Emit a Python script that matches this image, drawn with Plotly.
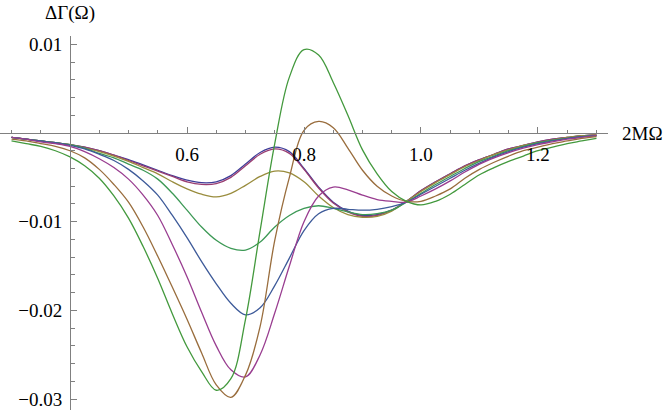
import plotly.graph_objects as go

# Sample points along 2MΩ (step 0.025)
x_vals = [0.30, 0.325, 0.35, 0.375, 0.40, 0.425, 0.45, 0.475, 0.50, 0.525,
          0.55, 0.575, 0.60, 0.625, 0.65, 0.675, 0.70, 0.725, 0.75, 0.775,
          0.80, 0.825, 0.85, 0.875, 0.90, 0.925, 0.95, 0.975, 1.0, 1.025,
          1.05, 1.075, 1.1, 1.125, 1.15, 1.175, 1.2, 1.225, 1.25, 1.275, 1.3]

# ΔΓ(Ω) for each curve
curve_1 = [-0.0005, -0.0007, -0.0009, -0.0011, -0.0013, -0.0016, -0.0020, -0.0025, -0.0030, -0.0036,
           -0.0042, -0.0048, -0.0053, -0.0056, -0.0055, -0.0048, -0.0035, -0.0022, -0.0016, -0.0021,
           -0.0040, -0.0061, -0.0078, -0.0088, -0.0093, -0.0092, -0.0087, -0.0077, -0.0065, -0.0055,
           -0.0046, -0.0037, -0.0030, -0.0024, -0.0018, -0.0014, -0.0010, -0.0007, -0.0005, -0.0003, -0.0002]
curve_2 = [-0.0005, -0.0007, -0.0009, -0.0011, -0.0013, -0.0016, -0.0020, -0.0025, -0.0031, -0.0037,
           -0.0043, -0.0049, -0.0055, -0.0058, -0.0057, -0.0050, -0.0037, -0.0024, -0.0018, -0.0023,
           -0.0041, -0.0062, -0.0079, -0.0089, -0.0094, -0.0093, -0.0087, -0.0077, -0.0065, -0.0055,
           -0.0046, -0.0037, -0.0030, -0.0024, -0.0018, -0.0014, -0.0010, -0.0007, -0.0005, -0.0003, -0.0002]
curve_3 = [-0.0005, -0.0007, -0.0009, -0.0011, -0.0013, -0.0017, -0.0021, -0.0026, -0.0032, -0.0039,
           -0.0046, -0.0055, -0.0063, -0.0069, -0.0072, -0.0068, -0.0059, -0.0049, -0.0043, -0.0045,
           -0.0055, -0.0071, -0.0084, -0.0092, -0.0095, -0.0094, -0.0088, -0.0077, -0.0066, -0.0056,
           -0.0047, -0.0038, -0.0031, -0.0024, -0.0019, -0.0014, -0.0011, -0.0008, -0.0005, -0.0003, -0.0002]
curve_4 = [-0.0005, -0.0007, -0.0009, -0.0011, -0.0013, -0.0017, -0.0023, -0.0028, -0.0035, -0.0042,
           -0.0052, -0.0068, -0.0087, -0.0106, -0.0121, -0.0130, -0.0132, -0.0123, -0.0106, -0.0093,
           -0.0085, -0.0082, -0.0085, -0.0089, -0.0092, -0.0091, -0.0087, -0.0078, -0.0068, -0.0058,
           -0.0049, -0.0040, -0.0032, -0.0026, -0.0020, -0.0015, -0.0011, -0.0008, -0.0006, -0.0004, -0.0003]
curve_5 = [-0.0005, -0.0007, -0.0009, -0.0011, -0.0014, -0.0018, -0.0024, -0.0031, -0.0041, -0.0054,
           -0.0070, -0.0093, -0.0118, -0.0145, -0.0170, -0.0192, -0.0205, -0.0197, -0.0172, -0.0141,
           -0.0110, -0.0091, -0.0085, -0.0086, -0.0087, -0.0086, -0.0083, -0.0078, -0.0069, -0.0060,
           -0.0051, -0.0042, -0.0034, -0.0027, -0.0021, -0.0016, -0.0012, -0.0009, -0.0006, -0.0004, -0.0003]
curve_6 = [-0.0005, -0.0007, -0.0010, -0.0012, -0.0015, -0.0021, -0.0029, -0.0039, -0.0052, -0.0070,
           -0.0093, -0.0126, -0.0162, -0.0202, -0.0240, -0.0267, -0.0275, -0.0250, -0.0203, -0.0150,
           -0.0100, -0.0071, -0.0061, -0.0064, -0.0070, -0.0075, -0.0077, -0.0078, -0.0071, -0.0063,
           -0.0054, -0.0044, -0.0035, -0.0028, -0.0022, -0.0017, -0.0013, -0.0010, -0.0007, -0.0005, -0.0003]
curve_7 = [-0.0007, -0.0009, -0.0012, -0.0015, -0.0020, -0.0028, -0.0041, -0.0058, -0.0078, -0.0106,
           -0.0139, -0.0174, -0.0210, -0.0248, -0.0284, -0.0298, -0.0273, -0.0218, -0.0121, -0.0050,
           0.0003, 0.0013, 0.0006, -0.0017, -0.0042, -0.0060, -0.0071, -0.0077, -0.0077, -0.0071,
           -0.0063, -0.0051, -0.0041, -0.0033, -0.0026, -0.0020, -0.0016, -0.0012, -0.0009, -0.0006, -0.0004]
curve_8 = [-0.0009, -0.0012, -0.0015, -0.0020, -0.0027, -0.0037, -0.0051, -0.0071, -0.0096, -0.0128,
           -0.0164, -0.0204, -0.0241, -0.0269, -0.0290, -0.0277, -0.0210, -0.0110, -0.0012, 0.0063,
           0.0094, 0.0088, 0.0057, 0.0020, -0.0019, -0.0046, -0.0066, -0.0077, -0.0081, -0.0077,
           -0.0069, -0.0058, -0.0047, -0.0039, -0.0032, -0.0026, -0.0020, -0.0016, -0.0012, -0.0009, -0.0006]

curves = [curve_1, curve_2, curve_3, curve_4, curve_5, curve_6, curve_7, curve_8]

# Old Mathematica default plot colours
colors = ["rgb(63,61,153)", "rgb(153,61,113)", "rgb(153,140,61)", "rgb(61,153,86)",
          "rgb(61,90,153)", "rgb(153,61,144)", "rgb(153,109,61)", "rgb(67,153,61)"]

x_tickvals = [0.6, 0.8, 1.0, 1.2]
x_ticktext = ["0.6", "0.8", "1.0", "1.2"]
y_tickvals = [0.01, -0.01, -0.02, -0.03]
y_ticktext = ["0.01", "\u22120.01", "\u22120.02", "\u22120.03"]

x_range = [0.2803, 1.3197]
y_range = [-0.031229, 0.010936]

fig = go.Figure()
for ys, c in zip(curves, colors):
    fig.add_trace(go.Scatter(x=x_vals, y=ys, mode="lines",
                             line=dict(color=c, width=1.3, shape="spline"),
                             showlegend=False, hoverinfo="skip"))

axis_gray = "#808080"
font = dict(family="Liberation Serif, 'Times New Roman', Times, serif",
            size=19, color="black")

# Axes cross at (0.4, 0) as in Mathematica
x_pos = (0 - y_range[0]) / (y_range[1] - y_range[0])
y_pos = (0.4 - x_range[0]) / (x_range[1] - x_range[0])

fig.update_layout(
    width=667, height=411,
    margin=dict(l=0, r=59, t=36, b=1, autoexpand=False),
    paper_bgcolor="white", plot_bgcolor="white",
    font=font,
    xaxis=dict(range=x_range, anchor="free", position=x_pos, automargin=False,
               showgrid=False, zeroline=False, showline=True,
               linecolor=axis_gray, linewidth=1,
               tickmode="array", tickvals=x_tickvals, ticktext=x_ticktext,
               ticks="inside", ticklen=6, tickcolor=axis_gray, tickwidth=1,
               ticklabelstandoff=4, tickfont=font,
               minor=dict(ticks="inside", ticklen=3.5, tickcolor=axis_gray,
                          tick0=0, dtick=0.05, showgrid=False)),
    yaxis=dict(range=y_range, anchor="free", position=y_pos, automargin=False,
               showgrid=False, zeroline=False, showline=True,
               linecolor=axis_gray, linewidth=1,
               tickmode="array", tickvals=y_tickvals, ticktext=y_ticktext,
               ticks="inside", ticklen=6, tickcolor=axis_gray, tickwidth=1,
               ticklabelstandoff=4, tickfont=font,
               minor=dict(ticks="inside", ticklen=3.5, tickcolor=axis_gray,
                          tick0=0, dtick=0.002, showgrid=False)),
)

fig.add_annotation(text="\u0394\u0393(\u03a9)", xref="paper", yref="paper",
                   x=y_pos, y=1 + 23 / 374, showarrow=False,
                   xanchor="center", yanchor="middle", font=font)
fig.add_annotation(text="2M\u03a9", xref="paper", yref="paper",
                   x=665 / 608, y=x_pos, showarrow=False,
                   xanchor="right", yanchor="middle", font=font)

# The page's default body margin would shift the figure; remove it.
fig.write_html("out.html", config={"displayModeBar": False},
               post_script="document.body.style.margin='0px';"
                           "document.body.style.overflow='hidden';")
